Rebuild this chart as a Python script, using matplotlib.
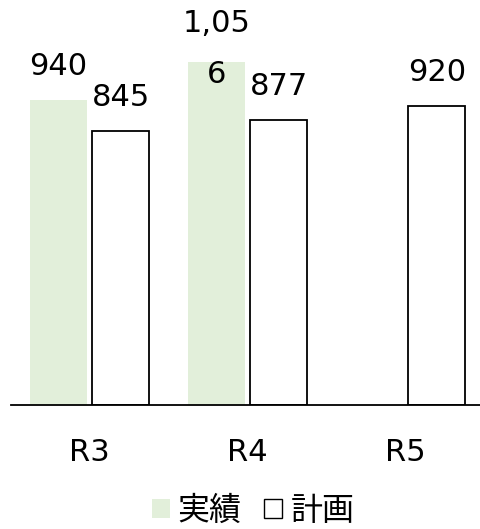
import numpy as np
import matplotlib
matplotlib.use('Agg')
import matplotlib.pyplot as plt

categories = ['R3', 'R4', 'R5']
actual = [940, 1056, np.nan]
plan = [845, 877, 920]
actual_labels = ['940', '1,05\n6', '']
plan_labels = ['845', '877', '920']

GREEN = '#E2EFDA'
FS = 22

plt.rcParams['font.family'] = ['DejaVu Sans', 'Noto Sans CJK JP']

fig = plt.figure(figsize=(4.8, 5.29), dpi=100)
ax = fig.add_axes([0.022, 0.2344, 0.978, 0.7656])

x = np.arange(len(categories))
w = 0.36
gap = 0.016
b1 = ax.bar(x - w / 2 - gap, actual, w, color=GREEN, label='実績')
b2 = ax.bar(x + w / 2 + gap, plan, w, color='white', edgecolor='black',
            linewidth=1.3, label='計画')

# px offset of label bottom above the bar top
for rect, lab in zip(b1, actual_labels):
    if not lab:
        continue
    off = 19 if '\n' not in lab else -27
    ax.annotate(lab, (rect.get_x() + rect.get_width() / 2, rect.get_height()),
                xytext=(0, off * 0.72), textcoords='offset points',
                ha='center', va='bottom', fontsize=FS, linespacing=1.95)
for rect, lab in zip(b2, plan_labels):
    ax.annotate(lab, (rect.get_x() + rect.get_width() / 2, rect.get_height()),
                xytext=(0, 19 * 0.72), textcoords='offset points',
                ha='center', va='bottom', fontsize=FS)

ax.set_xlim(-0.5, 2.47)
ax.set_ylim(0, 1248)
ax.set_xticks(x)
ax.set_xticklabels(categories, fontsize=FS)
ax.set_yticks([])
ax.tick_params(axis='x', length=0, pad=24)
for s in ['top', 'right', 'left']:
    ax.spines[s].set_visible(False)
ax.spines['bottom'].set_linewidth(1.3)
ax.patch.set_visible(False)

leg = fig.legend(loc='lower center', bbox_to_anchor=(0.527, -0.05), ncol=2,
                 frameon=False, handlelength=0.57, handleheight=0.57,
                 handletextpad=0.25, columnspacing=0.7,
                 prop={'family': 'Noto Sans CJK JP', 'size': 23})
leg.legend_handles[1].set_linewidth(1.0)

fig.savefig('out.png')
